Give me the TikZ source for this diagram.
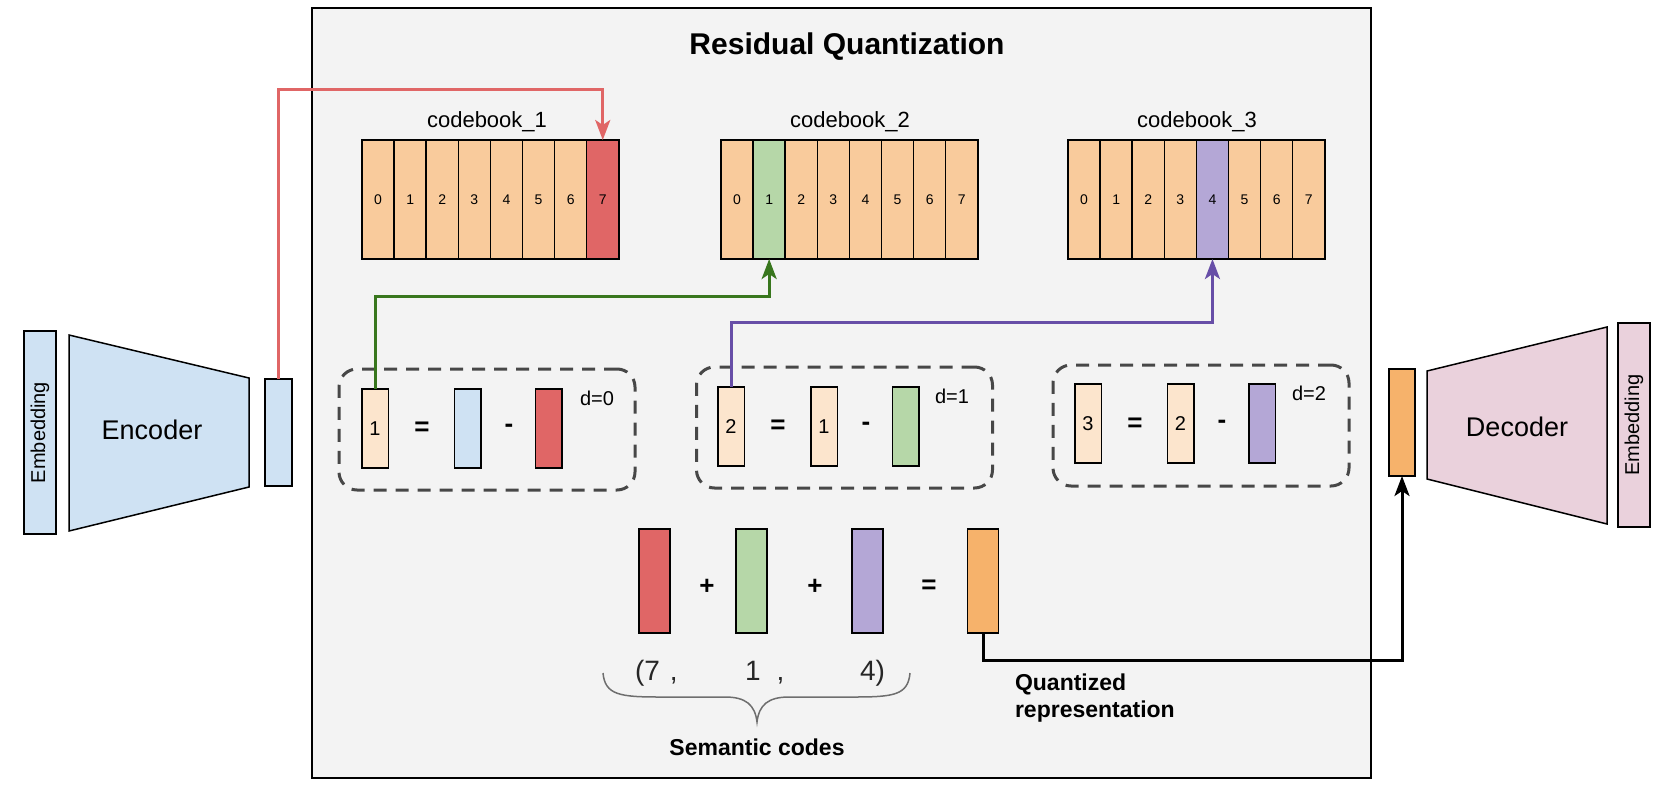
\documentclass[tikz,border=0pt]{standalone}
\usepackage{fontspec}
\setmainfont{Liberation Sans}
\usetikzlibrary{arrows.meta,calc}
\definecolor{bluefill}{HTML}{CFE2F3}
\definecolor{pinkfill}{HTML}{EAD1DC}
\definecolor{cbfill}{HTML}{F9CB9C}
\definecolor{redfill}{HTML}{E06666}
\definecolor{greenfill}{HTML}{B6D7A8}
\definecolor{purplefill}{HTML}{B4A7D6}
\definecolor{resfill}{HTML}{FCE5CD}
\definecolor{orangefill}{HTML}{F6B26B}
\definecolor{boxgray}{HTML}{F3F3F3}
\definecolor{dashgray}{HTML}{474747}
\definecolor{bracegray}{HTML}{6E6E6E}
\definecolor{redline}{HTML}{E06666}
\definecolor{greenline}{HTML}{38761D}
\definecolor{purpleline}{HTML}{674EA7}
\begin{document}
\begin{tikzpicture}[x=1pt,y=-1pt,
  every node/.style={inner sep=0pt,outer sep=0pt},
  outl/.style={draw=black,line width=1.5pt},
  cell/.style={outl,fill=cbfill,minimum width=32.1pt,minimum height=119pt,font=\fontsize{14}{16}\selectfont},
  hl17/.style={fill=redfill},
  hl21/.style={fill=greenfill},
  hl34/.style={fill=purplefill},
  vec/.style={outl,minimum width=26.5pt,minimum height=79pt,font=\fontsize{20}{24}\selectfont},
  bigvec/.style={outl,minimum width=31pt,minimum height=104pt},
  dbox/.style={draw=dashgray,line width=3pt,dash pattern=on 13pt off 9pt,rounded corners=18pt,minimum width=296pt,minimum height=121pt},
  op/.style={font=\bfseries\fontsize{26}{30}\selectfont},
  dlabel/.style={font=\fontsize{20}{24}\selectfont},
  cblabel/.style={font=\fontsize{22}{26}\selectfont},
  codetext/.style={font=\fontsize{28}{32}\selectfont,text=black!85},
  boldlabel/.style={font=\bfseries\fontsize{23}{28}\selectfont},
  emb/.style={outl,rotate=90,minimum height=32pt,font=\fontsize{20}{24}\selectfont},
  conn/.style={line width=3pt,-{Stealth[length=20pt,width=15pt,inset=5pt]}}
]
\useasboundingbox (0,0) rectangle (1677,787);

% main box
\node[outl,fill=boxgray,minimum width=1059pt,minimum height=770pt] (rq) at (841.5,393) {};
\node[font=\bfseries\fontsize{30}{36}\selectfont] (title) at (847,47) {Residual Quantization};

% encoder side
\node[emb,fill=bluefill,minimum width=203pt] (embl) at (40,432.5) {Embedding};
\draw[outl,fill=bluefill] (69,335) -- (249,378) -- (249,487) -- (69,531) -- cycle;
\node[font=\fontsize{27}{32}\selectfont] (enc) at (152,430) {Encoder};
\node[outl,fill=bluefill,minimum width=27pt,minimum height=107pt] (encout) at (278.5,432.5) {};

% decoder side
\node[outl,fill=orangefill,minimum width=26pt,minimum height=107pt] (decin) at (1402,422.5) {};
\draw[outl,fill=pinkfill] (1427,371) -- (1607,327) -- (1607,524) -- (1427,479) -- cycle;
\node[font=\fontsize{27}{32}\selectfont] (dec) at (1517,427) {Decoder};
\node[emb,fill=pinkfill,minimum width=204pt] (embr) at (1634,425) {Embedding};

% codebooks
\foreach \b/\x in {1/362,2/721,3/1068} {
  \foreach \i in {0,...,7} {
    \pgfmathsetmacro\cx{\x+32.1*\i+16.05}
    \node[cell,hl\b\i/.try] (cb\b\i) at (\cx,199.5) {\i};
  }
}
\node[cblabel] (cbl1) at (487,122) {codebook\_1};
\node[cblabel] (cbl2) at (850,122) {codebook\_2};
\node[cblabel] (cbl3) at (1197,122) {codebook\_3};

% residual boxes
\node[dbox] (db1) at (487,429.5) {};
\node[dbox] (db2) at (844.5,427.5) {};
\node[dbox] (db3) at (1201,425.5) {};

\node[vec,fill=resfill] (r1a) at (375,428.5) {1};
\node[op] (eq1) at (422,429) {=};
\node[vec,fill=bluefill] (r1b) at (467.5,428.5) {};
\node[op] (mi1) at (509,428) {-};
\node[vec,fill=redfill] (r1c) at (548.5,428.5) {};
\node[dlabel] (d0) at (597,398) {d=0};

\node[vec,fill=resfill] (r2a) at (731,426.5) {2};
\node[op] (eq2) at (778,427) {=};
\node[vec,fill=resfill] (r2b) at (824,426.5) {1};
\node[op] (mi2) at (866,426) {-};
\node[vec,fill=greenfill] (r2c) at (905.5,426.5) {};
\node[dlabel] (d1) at (952,396) {d=1};

\node[vec,fill=resfill] (r3a) at (1088,423.5) {3};
\node[op] (eq3) at (1135,425) {=};
\node[vec,fill=resfill] (r3b) at (1180.5,423.5) {2};
\node[op] (mi3) at (1222,424) {-};
\node[vec,fill=purplefill] (r3c) at (1262,423.5) {};
\node[dlabel] (d2) at (1309,393) {d=2};

% sum
\node[bigvec,fill=redfill] (s1) at (654.5,581) {};
\node[op] (p1) at (707,587) {+};
\node[bigvec,fill=greenfill] (s2) at (751.5,581) {};
\node[op] (p2) at (815,587) {+};
\node[bigvec,fill=purplefill] (s3) at (867.5,581) {};
\node[op] (eq4) at (929,587) {=};
\node[bigvec,fill=orangefill] (qsum) at (983,581) {};

\node[codetext,anchor=base west] (c7) at (635,680) {(7\hspace{10pt},};
\node[codetext,anchor=base west] (c1) at (745,680) {1\hspace{16pt},};
\node[codetext,anchor=base west] (c4) at (860,680) {4)};

\draw[bracegray,line width=1.5pt] (603,673) .. controls (605,695) and (620,697) .. (660,697) -- (725,697) .. controls (746,697) and (755,705) .. (757,722) .. controls (759,705) and (768,697) .. (789,697) -- (854,697) .. controls (894,697) and (908,695) .. (910,673);
\node[boldlabel] (sem) at (757,747) {Semantic codes};
\node[boldlabel,anchor=west,align=left] (quant) at (1015,698) {Quantized\\[-1pt]representation};

% connectors
\draw[conn,redline] (encout.north) -- ++(0,-290) -| (cb17.north);
\draw[conn,greenline] (r1a.north) -- ++(0,-93) -| (cb21.south);
\draw[conn,purpleline] (r2a.north) -- ++(0,-65) -| (cb34.south);
\draw[conn,black] (qsum.south) -- ++(0,27) -| (decin.south);
\end{tikzpicture}
\end{document}
